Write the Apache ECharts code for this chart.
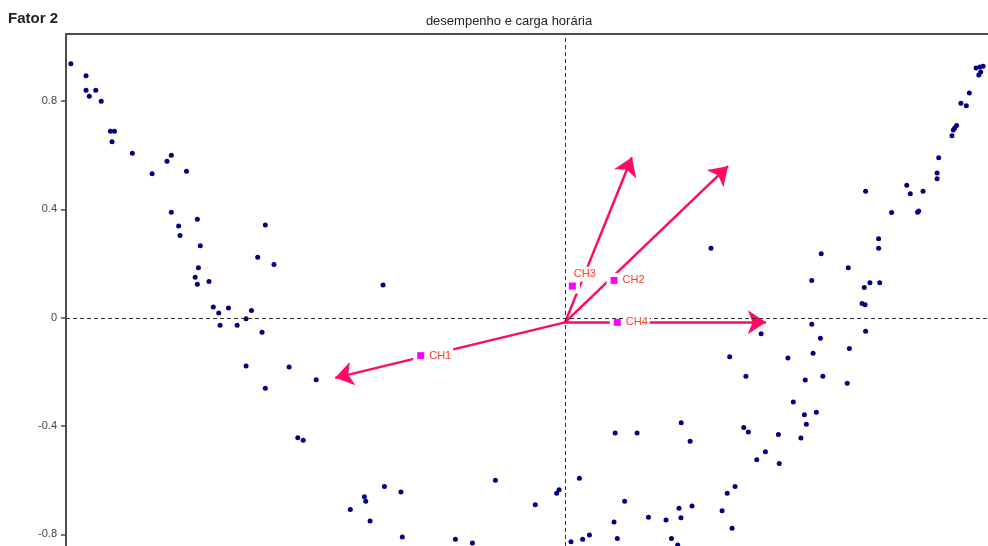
<!DOCTYPE html>
<html>
<head>
<meta charset="utf-8">
<script src="https://cdn.jsdelivr.net/npm/echarts@6/dist/echarts.min.js"></script>
<style>
  html, body { margin: 0; padding: 0; background: #fff; }
  #chart { width: 988px; height: 546px; }
</style>
</head>
<body>
<div id="chart"></div>
<script>
// individuos (fator 1, fator 2)
const pointX = [
  -1.825, -1.769, -1.769, -1.733, -1.757, -1.713, -1.679, -1.664, -1.673, -1.598,
  -1.470, -1.454, -1.525, -1.398, -1.454, -1.427, -1.422, -1.358, -1.347, -1.354,
  -1.366, -1.358, -1.315, -1.135, -1.107, -1.075, -1.299, -1.279, -1.243, -1.274,
  -1.211, -1.178, -1.158, -1.119, -1.178, -1.019, -1.107, -0.919, -0.987, -0.967,
  -0.672, 0.185, 0.266, 0.053, -0.257, -0.667, -0.606, -0.741, -0.736, -0.793,
  -0.720, -0.031, -0.022, -0.110, 0.220, 0.308, 0.181, -0.601, -0.405, -0.342,
  0.022, 0.065, 0.090, 0.193,
  1.110, 1.275, 1.322, 1.206, 1.302, 1.306, 1.158, 1.158, 0.539, 0.946,
  1.046, 0.911, 1.126, 1.162, 1.105, 1.097, 1.108, 0.911, 1.110, 0.724,
  0.943, 1.050, 0.608, 0.823, 0.916,
  1.518, 1.528, 1.535, 1.532, 1.544, 1.493, 1.462, 1.482, 1.446, 1.439,
  1.434, 1.429, 1.380, 1.374, 1.374, 1.262,
  0.668, 0.887, 0.952, 1.042, 0.843, 0.884, 0.928, 0.891, 0.429, 0.462,
  0.660, 0.677, 0.788, 0.871, 0.740, 0.708, 0.791, 0.628, 0.599, 0.421,
  0.469, 0.580, 0.373, 0.428, 0.617, 0.393, 0.416
];
const pointY = [
  0.938, 0.894, 0.840, 0.840, 0.818, 0.800, 0.689, 0.689, 0.650, 0.608,
  0.578, 0.600, 0.532, 0.541, 0.390, 0.339, 0.304, 0.364, 0.266, 0.185,
  0.150, 0.124, 0.134, 0.223, 0.343, 0.197, 0.040, 0.018, 0.036, -0.028,
  -0.028, -0.004, 0.027, -0.054, -0.178, -0.182, -0.260, -0.229, -0.443, -0.452,
  0.121, -0.426, -0.426, -0.593, -0.600, -0.623, -0.644, -0.661, -0.678, -0.708,
  -0.751, -0.648, -0.635, -0.691, -0.678, -0.737, -0.754, -0.810, -0.818, -0.832,
  -0.827, -0.818, -0.802, -0.815,
  0.467, 0.458, 0.467, 0.389, 0.390, 0.394, 0.292, 0.257, 0.257, 0.236,
  0.185, 0.138, 0.129, 0.129, 0.112, 0.053, 0.048, -0.024, -0.050, -0.059,
  -0.076, -0.114, -0.144, -0.149, -0.131,
  0.922, 0.897, 0.908, 0.926, 0.929, 0.830, 0.792, 0.783, 0.710, 0.701,
  0.693, 0.672, 0.591, 0.535, 0.513, 0.489,
  -0.216, -0.230, -0.216, -0.242, -0.311, -0.358, -0.349, -0.393, -0.388, -0.456,
  -0.405, -0.422, -0.431, -0.444, -0.495, -0.524, -0.538, -0.623, -0.648, -0.704,
  -0.695, -0.713, -0.747, -0.739, -0.777, -0.815, -0.839
];

// variaveis (setas)
const varNames = ['CH1', 'CH2', 'CH3', 'CH4'];
const arrowOrigin = [0, -0.017];
const arrowTipX = [-0.849, 0.602, 0.247, 0.742];
const arrowTipY = [-0.222, 0.560, 0.593, -0.017];
const varX = [-0.533, 0.181, 0.027, 0.193];
const varY = [-0.140, 0.138, 0.117, -0.017];

const yTicks = [-0.8, -0.4, 0, 0.4, 0.8];

const chart = echarts.init(document.getElementById('chart'));

const axisColor = '#4d4d4d';
const arrowColor = '#ff0a64';

chart.setOption({
  animation: false,
  backgroundColor: '#fff',
  graphic: [
    {
      type: 'text', x: 509, y: 21.5,
      style: {
        text: 'desempenho e carga horária', fill: '#222',
        font: '13px "Liberation Sans", Arial, sans-serif',
        align: 'center', verticalAlign: 'middle'
      }
    },
    {
      type: 'text', x: 8, y: 19,
      style: {
        text: 'Fator 2', fill: '#222',
        font: 'bold 15px "Liberation Sans", Arial, sans-serif',
        align: 'left', verticalAlign: 'middle'
      }
    }
  ],
  // the plot runs past the right and bottom edges of the picture
  grid: { left: 66, top: 34, right: 0, bottom: 0 },
  xAxis: {
    type: 'value',
    position: 'top',
    min: -1.843,
    max: 1.562,
    axisLine: { show: true, onZero: false, lineStyle: { color: axisColor, width: 2 } },
    axisTick: { show: false },
    axisLabel: { show: false },
    splitLine: { show: false }
  },
  yAxis: {
    type: 'value',
    min: -0.843,
    max: 1.048,
    axisLine: { show: true, onZero: false, lineStyle: { color: axisColor, width: 2 } },
    axisTick: { show: true, length: 5, customValues: yTicks, lineStyle: { color: axisColor, width: 1.5 } },
    axisLabel: {
      customValues: yTicks,
      margin: 9,
      color: '#444',
      fontSize: 11,
      fontFamily: '"Liberation Sans", Arial, sans-serif',
      formatter: (v) => String(v)
    },
    splitLine: { show: false }
  },
  series: [
    {
      type: 'scatter',
      name: 'individuos',
      z: 2,
      symbol: 'circle',
      symbolSize: 5,
      itemStyle: { color: '#000080', opacity: 1 },
      data: pointX.map((x, i) => [x, pointY[i]]),
      markLine: {
        silent: true,
        symbol: ['none', 'none'],
        label: { show: false },
        lineStyle: { color: '#333', width: 1, type: [4, 3] },
        data: [{ xAxis: 0 }, { yAxis: 0 }]
      }
    },
    {
      type: 'lines',
      name: 'setas',
      coordinateSystem: 'cartesian2d',
      z: 3,
      symbol: ['none', 'arrow'],
      symbolSize: 18,
      lineStyle: { color: arrowColor, width: 2.5, opacity: 1 },
      data: varNames.map((n, i) => ({
        coords: [arrowOrigin, [arrowTipX[i], arrowTipY[i]]]
      }))
    },
    {
      type: 'scatter',
      name: 'fundo',
      z: 4,
      silent: true,
      symbol: 'rect',
      symbolSize: 15,
      itemStyle: { color: '#fff', opacity: 1 },
      data: varX.map((x, i) => [x, varY[i]])
    },
    {
      type: 'scatter',
      name: 'variaveis',
      z: 5,
      symbol: 'rect',
      symbolSize: 7,
      itemStyle: { color: '#ff00ff', opacity: 1 },
      label: {
        show: true,
        position: 'right',
        distance: 3,
        formatter: (p) => p.name,
        color: '#ff3c28',
        fontSize: 11,
        fontFamily: '"Liberation Sans", Arial, sans-serif',
        backgroundColor: '#fff',
        padding: [2, 2]
      },
      data: varNames.map((n, i) => ({
        name: n,
        value: [varX[i], varY[i]],
        label: n === 'CH3' ? { offset: [-7, -12] } : undefined
      }))
    }
  ]
});
</script>
</body>
</html>
